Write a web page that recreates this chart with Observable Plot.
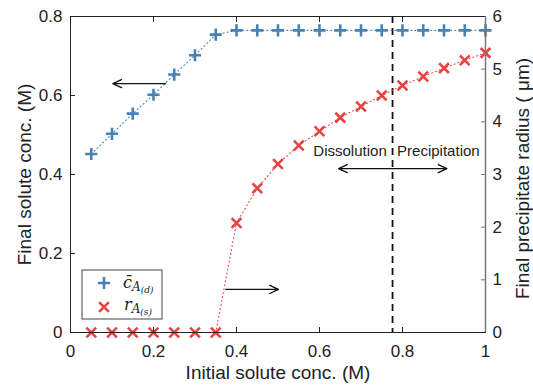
<!DOCTYPE html>
<html><head><meta charset="utf-8">
<script src="https://cdn.jsdelivr.net/npm/d3@7"></script>
<script src="https://cdn.jsdelivr.net/npm/@observablehq/plot@0.6"></script>
<style>body{margin:0;background:#fff}</style>
</head><body><div id="chart"></div>
<script>
const initialConc = [0.05,0.10,0.15,0.20,0.25,0.30,0.35,0.40,0.45,0.50,0.55,0.60,0.65,0.70,0.75,0.80,0.85,0.90,0.95,1.00];
const finalConc = [0.452,0.503,0.554,0.602,0.653,0.702,0.754,0.765,0.765,0.765,0.765,0.765,0.765,0.765,0.765,0.765,0.765,0.765,0.765,0.765];
const finalRadius = [0,0,0,0,0,0,0,2.08,2.74,3.20,3.55,3.82,4.08,4.29,4.50,4.69,4.86,5.02,5.17,5.31];
const xTicks = [0,0.2,0.4,0.6,0.8,1];
const yTicks = [0,0.2,0.4,0.6,0.8];
const rTicks = [0,1,2,3,4,5,6];
const threshold = 0.776;
const annotations = ["Dissolution","Precipitation"];

const W = 533, H = 389;
const k = 0.8/6;
const blue = "#4682b4", red = "#e84343";
const fmt = d3.format("~g");
const conc = initialConc.map((x,i)=>({x, y: finalConc[i]}));
const rad = initialConc.map((x,i)=>({x, y: finalRadius[i]*k}));
const font = "'Liberation Sans', Arial, sans-serif";

const plot = Plot.plot({
  width: W, height: H,
  marginLeft: 70, marginRight: 48, marginTop: 16, marginBottom: 57,
  style: {fontFamily: font, fontSize: "17px", color: "#222", background: "#fff"},
  x: {domain: [0,1]},
  y: {domain: [0,0.8]},
  marks: [
    Plot.ruleX([threshold], {stroke: "#111", strokeWidth: 1.8, strokeDasharray: "7,5"}),
    Plot.line(conc, {x: "x", y: "y", stroke: blue, strokeWidth: 1.1, strokeDasharray: "1,3"}),
    Plot.line(rad, {x: "x", y: "y", stroke: red, strokeWidth: 1.1, strokeDasharray: "1,3"}),
    Plot.dot(conc, {x: "x", y: "y", symbol: "plus", r: 4, stroke: blue, strokeWidth: 2.6}),
    Plot.dot(rad, {x: "x", y: "y", symbol: "times", r: 4.5, stroke: red, strokeWidth: 2.6}),
    Plot.frame({stroke: "#222"}),
    Plot.ruleX([1], {stroke: "#777", strokeWidth: 1.5}),
    Plot.axisX(xTicks.slice(1,-1), {anchor: "bottom", tickSize: -5, tickFormat: () => "", label: null, stroke: "#222"}),
    Plot.axisX(xTicks.slice(1,-1), {anchor: "top", tickSize: -5, tickFormat: () => "", label: null, stroke: "#222"}),
    Plot.axisX(xTicks, {anchor: "bottom", tickSize: 0, tickPadding: 12, tickFormat: fmt, label: null}),
    Plot.axisY(yTicks.slice(1,-1), {anchor: "left", tickSize: -5, tickFormat: () => "", label: null, stroke: "#222"}),
    Plot.axisY(yTicks, {anchor: "left", tickSize: 0, tickPadding: 8, tickFormat: fmt, label: null}),
    Plot.axisY(rTicks.slice(1,-1).map(v=>v*k), {anchor: "right", tickSize: -5, tickFormat: () => "", label: null, stroke: "#777"}),
    Plot.axisY(rTicks.map(v=>v*k), {anchor: "right", tickSize: 0, tickPadding: 7, tickFormat: d => fmt(Math.round(d/k)), label: null}),
    Plot.text(["Initial solute conc. (M)"], {frameAnchor: "bottom", dy: 46, fontSize: 19, fill: "#222"}),
    Plot.text(["Final solute conc. (M)"], {frameAnchor: "left", textAnchor: "middle", dx: -46, rotate: -90, fontSize: 19, fill: "#222"}),
    Plot.text(["Final precipitate radius ( \u03bcm)"], {frameAnchor: "right", textAnchor: "middle", dx: 37, dy: 4, rotate: -90, fontSize: 19, fill: "#222"}),
    Plot.arrow([{x1: 0.229, x2: 0.102, y: 0.63}], {x1: "x1", x2: "x2", y1: "y", y2: "y", stroke: "#111", strokeWidth: 1.3, headLength: 11, headAngle: 50}),
    Plot.arrow([{x1: 0.374, x2: 0.501, y: 0.109}], {x1: "x1", x2: "x2", y1: "y", y2: "y", stroke: "#111", strokeWidth: 1.3, headLength: 11, headAngle: 50}),
    Plot.arrow([{x1: threshold, x2: 0.646, y: 0.415},{x1: threshold, x2: 0.907, y: 0.415}], {x1: "x1", x2: "x2", y1: "y", y2: "y", stroke: "#111", strokeWidth: 1.3, headLength: 11, headAngle: 50}),
    Plot.text([annotations[0]], {x: 0.762, y: 0.458, textAnchor: "end", fontSize: 15, fill: "#222"}),
    Plot.text([annotations[1]], {x: 0.787, y: 0.458, textAnchor: "start", fontSize: 15, fill: "#222"})
  ]
});

// legend
const svg = d3.select(plot);
const g = svg.append("g").attr("text-anchor", "start");
g.append("rect").attr("x", 82).attr("y", 270).attr("width", 80).attr("height", 49)
  .attr("fill", "#fff").attr("stroke", "#444").attr("stroke-width", 1);
g.append("path").attr("d", d3.symbol(d3.symbolPlus, Math.PI*16)()).attr("transform", "translate(104,283)")
  .attr("fill", "none").attr("stroke", blue).attr("stroke-width", 2.6);
g.append("path").attr("d", d3.symbol(d3.symbolTimes, Math.PI*4.5*4.5)()).attr("transform", "translate(104,307)")
  .attr("fill", "none").attr("stroke", red).attr("stroke-width", 2.6);
const serif = "'DejaVu Serif', 'Liberation Serif', serif";
const t1 = g.append("text").attr("x", 123).attr("y", 288).attr("font-family", serif).attr("font-style", "italic").attr("fill", "#222");
t1.append("tspan").attr("font-size", 16).text("c\u0304");
t1.append("tspan").attr("font-size", 12).attr("dy", 3).text("A");
t1.append("tspan").attr("font-size", 9).attr("dy", 2).text("(d)");
const t2 = g.append("text").attr("x", 124).attr("y", 310).attr("font-family", serif).attr("font-style", "italic").attr("fill", "#222");
t2.append("tspan").attr("font-size", 16).text("r");
t2.append("tspan").attr("font-size", 12).attr("dy", 3).text("A");
t2.append("tspan").attr("font-size", 9).attr("dy", 2).text("(s)");

document.getElementById("chart").appendChild(plot);
</script>
</body></html>
